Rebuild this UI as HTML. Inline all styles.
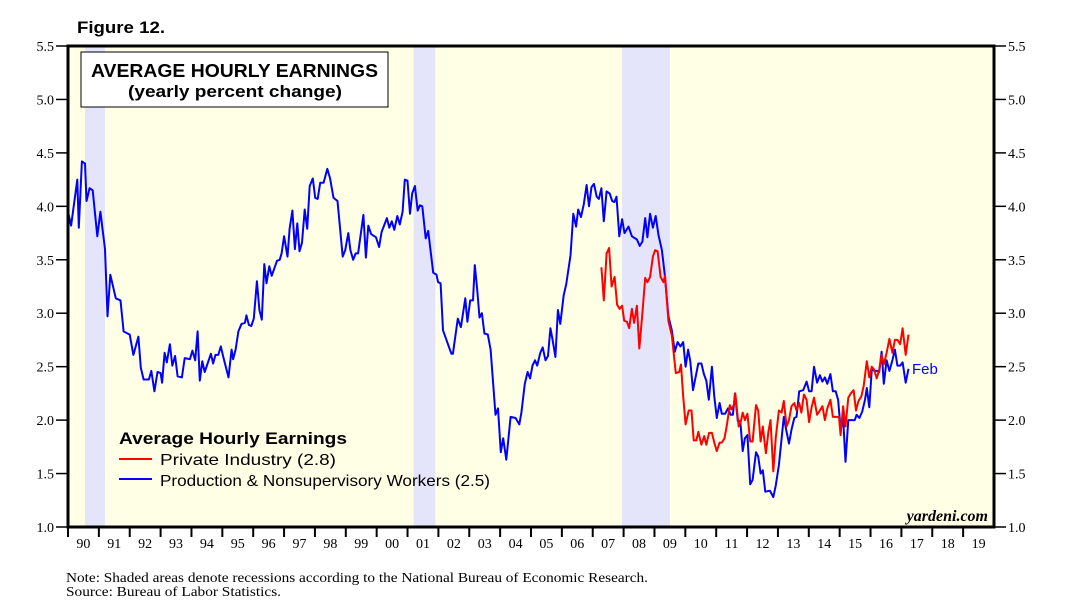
<!DOCTYPE html>
<html><head><meta charset="utf-8">
<style>
html,body{margin:0;padding:0;background:#fff;}
svg{display:block;}
</style></head>
<body>
<svg id="chart" width="1067" height="616" xmlns="http://www.w3.org/2000/svg">
<text x="77" y="33" font-family="Liberation Sans, sans-serif" font-weight="bold" font-size="17" textLength="88" lengthAdjust="spacingAndGlyphs">Figure 12.</text>
<rect x="68" y="46" width="926" height="481" fill="#ffffe6"/>
<g id="rec"></g>
<g id="ticks"></g>
<g id="lines"></g>
<rect x="68" y="46" width="926" height="481" fill="none" stroke="#000" stroke-width="3"/>
<rect x="81" y="52" width="307" height="55" fill="#fff" stroke="#000" stroke-width="1"/>
<text x="91" y="77" font-family="Liberation Sans, sans-serif" font-weight="bold" font-size="18" textLength="287" lengthAdjust="spacingAndGlyphs">AVERAGE HOURLY EARNINGS</text>
<text x="128" y="97" font-family="Liberation Sans, sans-serif" font-weight="bold" font-size="17" textLength="214" lengthAdjust="spacingAndGlyphs">(yearly percent change)</text>
<g>
<text x="119" y="444" font-family="Liberation Sans, sans-serif" font-weight="bold" font-size="17" textLength="228" lengthAdjust="spacingAndGlyphs">Average Hourly Earnings</text>
<line x1="119" y1="459" x2="152" y2="459" stroke="#f00" stroke-width="2"/>
<text x="160" y="465" font-family="Liberation Sans, sans-serif" font-size="16" textLength="176" lengthAdjust="spacingAndGlyphs">Private Industry (2.8)</text>
<line x1="119" y1="479" x2="152" y2="479" stroke="#00f" stroke-width="2"/>
<text x="160" y="486" font-family="Liberation Sans, sans-serif" font-size="16" textLength="330" lengthAdjust="spacingAndGlyphs">Production &amp; Nonsupervisory Workers (2.5)</text>
</g>
<text x="912" y="374" fill="#00f" font-family="Liberation Sans, sans-serif" font-size="15">Feb</text>
<text x="988" y="521" text-anchor="end" font-family="Liberation Serif, serif" font-style="italic" font-weight="bold" font-size="16">yardeni.com</text>
<text x="66" y="582" font-family="Liberation Serif, serif" font-size="14" textLength="582" lengthAdjust="spacingAndGlyphs">Note: Shaded areas denote recessions according to the National Bureau of Economic Research.</text>
<text x="66" y="596" font-family="Liberation Serif, serif" font-size="14" textLength="215" lengthAdjust="spacingAndGlyphs">Source: Bureau of Labor Statistics.</text>
</svg>
<script>
const recStart=[1990.55,2001.2,2007.95];
const recEnd=[1991.2,2001.9,2009.5];
const yTicks=[1.0,1.5,2.0,2.5,3.0,3.5,4.0,4.5,5.0,5.5];
const yTickLabels=["1.0","1.5","2.0","2.5","3.0","3.5","4.0","4.5","5.0","5.5"];
const xYears=["90","91","92","93","94","95","96","97","98","99","00","01","02","03","04","05","06","07","08","09","10","11","12","13","14","15","16","17","18","19"];
const blueT=[1990.0,1990.1,1990.3,1990.35,1990.45,1990.55,1990.6,1990.7,1990.8,1990.95,1991.05,1991.2,1991.28,1991.37,1991.55,1991.7,1991.8,1992.0,1992.12,1992.28,1992.36,1992.45,1992.62,1992.7,1992.8,1992.9,1993.0,1993.05,1993.13,1993.2,1993.3,1993.38,1993.47,1993.55,1993.69,1993.78,1993.95,1994.03,1994.12,1994.2,1994.27,1994.35,1994.43,1994.63,1994.7,1994.78,1994.87,1994.95,1995.03,1995.2,1995.3,1995.35,1995.43,1995.52,1995.62,1995.73,1995.78,1995.86,1995.94,1996.02,1996.12,1996.2,1996.28,1996.36,1996.43,1996.52,1996.6,1996.77,1996.86,1996.92,1997.0,1997.11,1997.18,1997.27,1997.35,1997.43,1997.5,1997.58,1997.67,1997.75,1997.83,1997.93,1998.01,1998.09,1998.17,1998.28,1998.4,1998.49,1998.6,1998.73,1998.9,1998.98,1999.08,1999.15,1999.24,1999.32,1999.4,1999.57,1999.65,1999.73,1999.82,1999.98,2000.08,2000.16,2000.33,2000.41,2000.49,2000.57,2000.67,2000.75,2000.84,2000.91,2001.0,2001.08,2001.15,2001.24,2001.33,2001.4,2001.48,2001.59,2001.67,2001.83,2001.94,2001.99,2002.07,2002.15,2002.42,2002.47,2002.63,2002.73,2002.87,2002.94,2003.03,2003.12,2003.18,2003.26,2003.33,2003.41,2003.49,2003.6,2003.69,2003.85,2003.93,2004.02,2004.1,2004.2,2004.34,2004.5,2004.62,2004.69,2004.8,2004.89,2004.97,2005.05,2005.13,2005.2,2005.3,2005.38,2005.47,2005.55,2005.63,2005.7,2005.79,2005.87,2005.95,2006.06,2006.14,2006.28,2006.37,2006.46,2006.53,2006.62,2006.71,2006.8,2006.88,2006.96,2007.04,2007.13,2007.2,2007.28,2007.36,2007.45,2007.55,2007.63,2007.7,2007.77,2007.86,2007.95,2008.03,2008.16,2008.27,2008.43,2008.52,2008.61,2008.7,2008.77,2008.86,2008.95,2009.04,2009.13,2009.24,2009.34,2009.45,2009.56,2009.66,2009.75,2009.84,2009.93,2010.01,2010.09,2010.16,2010.25,2010.42,2010.52,2010.6,2010.68,2010.76,2010.86,2010.94,2011.02,2011.11,2011.18,2011.29,2011.38,2011.47,2011.54,2011.61,2011.7,2011.78,2011.86,2011.93,2012.01,2012.1,2012.18,2012.29,2012.36,2012.44,2012.51,2012.59,2012.74,2012.85,2012.93,2013.03,2013.19,2013.28,2013.36,2013.44,2013.53,2013.6,2013.69,2013.82,2013.93,2014.01,2014.09,2014.17,2014.27,2014.36,2014.44,2014.52,2014.6,2014.7,2014.78,2014.87,2014.95,2015.03,2015.11,2015.19,2015.28,2015.39,2015.49,2015.55,2015.64,2015.73,2015.82,2015.88,2015.96,2016.04,2016.12,2016.22,2016.28,2016.36,2016.43,2016.52,2016.61,2016.71,2016.79,2016.87,2016.96,2017.04,2017.14,2017.23];
const blueV=[3.95,3.82,4.25,3.8,4.42,4.4,4.05,4.17,4.15,3.72,3.95,3.6,2.97,3.36,3.14,3.12,2.83,2.8,2.61,2.78,2.49,2.38,2.38,2.46,2.27,2.45,2.44,2.35,2.63,2.54,2.71,2.51,2.6,2.41,2.4,2.58,2.57,2.65,2.56,2.83,2.37,2.55,2.45,2.62,2.53,2.61,2.61,2.69,2.59,2.4,2.66,2.57,2.66,2.83,2.9,2.91,2.98,2.89,2.88,2.95,3.3,3.03,2.94,3.46,3.28,3.44,3.35,3.49,3.5,3.56,3.72,3.53,3.79,3.96,3.6,3.84,3.58,3.66,3.97,3.79,4.19,4.26,4.08,4.07,4.22,4.22,4.35,4.26,4.08,4.05,3.53,3.59,3.75,3.59,3.5,3.56,3.56,3.92,3.52,3.82,3.74,3.71,3.62,3.76,3.89,3.8,3.86,3.78,3.91,3.83,3.95,4.25,4.24,3.93,4.12,4.19,3.96,4.01,4.0,3.7,3.77,3.38,3.36,3.29,3.28,2.84,2.62,2.62,2.95,2.87,3.14,2.92,3.12,3.12,3.45,3.21,2.96,3.0,2.81,2.8,2.66,2.05,2.11,1.7,1.83,1.63,2.03,2.02,1.96,2.07,2.34,2.45,2.39,2.51,2.56,2.51,2.63,2.68,2.56,2.6,2.86,2.75,2.59,3.03,2.9,3.17,3.27,3.54,3.93,3.81,3.97,3.9,4.02,4.2,4.0,4.18,4.21,4.09,4.07,4.17,3.86,4.14,4.12,4.05,4.04,4.09,3.72,3.88,3.75,3.81,3.72,3.69,3.63,3.67,3.89,3.71,3.93,3.8,3.91,3.73,3.59,3.34,2.97,2.84,2.64,2.73,2.69,2.73,2.5,2.66,2.55,2.28,2.53,2.53,2.43,2.37,2.19,2.5,2.22,2.02,2.16,2.06,2.06,2.11,2.05,2.05,2.25,1.99,1.99,1.71,1.83,1.86,1.4,1.44,1.7,1.66,1.5,1.53,1.33,1.34,1.28,1.39,1.58,2.03,1.89,1.78,1.91,2.02,2.03,2.27,2.28,2.36,2.27,2.27,2.5,2.35,2.42,2.36,2.4,2.34,2.43,2.27,2.27,2.19,1.92,2.02,1.61,2.0,2.0,2.0,2.05,2.02,2.08,2.19,2.3,2.12,2.48,2.46,2.46,2.45,2.64,2.34,2.56,2.46,2.56,2.66,2.51,2.51,2.54,2.35,2.48];
const redT=[2007.28,2007.36,2007.45,2007.53,2007.61,2007.71,2007.79,2007.87,2007.95,2008.02,2008.11,2008.18,2008.27,2008.34,2008.43,2008.51,2008.61,2008.7,2008.77,2008.86,2008.95,2009.02,2009.1,2009.2,2009.29,2009.34,2009.45,2009.56,2009.69,2009.8,2009.86,2009.93,2010.01,2010.11,2010.2,2010.27,2010.36,2010.42,2010.52,2010.61,2010.68,2010.77,2010.86,2010.94,2011.02,2011.11,2011.18,2011.27,2011.35,2011.44,2011.49,2011.57,2011.62,2011.73,2011.8,2011.86,2011.93,2012.01,2012.1,2012.18,2012.29,2012.36,2012.44,2012.51,2012.61,2012.69,2012.76,2012.85,2012.93,2013.03,2013.12,2013.19,2013.28,2013.36,2013.44,2013.53,2013.6,2013.69,2013.76,2013.84,2013.93,2014.01,2014.09,2014.17,2014.27,2014.36,2014.44,2014.52,2014.6,2014.7,2014.78,2014.89,2014.98,2015.03,2015.11,2015.19,2015.28,2015.36,2015.45,2015.53,2015.61,2015.7,2015.78,2015.88,2015.96,2016.04,2016.12,2016.2,2016.28,2016.36,2016.43,2016.52,2016.61,2016.71,2016.79,2016.87,2016.96,2017.04,2017.14,2017.23];
const redV=[3.43,3.12,3.56,3.61,3.25,3.34,3.08,3.04,3.07,2.93,2.92,2.86,3.04,2.91,3.07,2.67,3.0,3.33,3.29,3.34,3.53,3.59,3.58,3.34,3.29,3.35,2.93,2.79,2.44,2.45,2.52,2.22,1.96,2.09,2.09,1.81,1.81,1.89,1.77,1.85,1.77,1.88,1.88,1.79,1.71,1.79,1.79,1.83,1.96,2.14,2.1,2.14,2.25,1.94,1.99,2.07,2.0,2.06,1.8,1.8,2.14,2.09,1.8,1.94,1.69,1.89,2.0,1.52,1.84,2.09,2.07,2.18,1.94,2.0,2.13,2.16,2.09,2.16,2.07,2.24,2.19,1.98,2.12,2.21,2.05,2.09,2.13,2.0,2.11,2.19,2.03,2.03,2.03,1.86,2.13,1.94,2.21,2.25,2.28,2.09,2.18,2.22,2.32,2.55,2.4,2.5,2.47,2.39,2.47,2.61,2.52,2.63,2.76,2.63,2.75,2.75,2.71,2.86,2.61,2.8];

const X0=68,X1=994,Y0=527,Y1=46;
const xs=t=>X0+(t-1990)*(X1-X0)/30;
const ys=v=>Y0-(v-1.0)*(Y0-Y1)/4.5;
const NS="http://www.w3.org/2000/svg";
function mk(tag,parent,attrs){const e=document.createElementNS(NS,tag);for(const k in attrs)e.setAttribute(k,attrs[k]);parent.appendChild(e);return e;}
const rec=document.getElementById('rec');
recStart.forEach((s,i)=>{
  const r=mk('rect',rec,{x:xs(s),y:Y1,width:xs(recEnd[i])-xs(s),height:Y0-Y1,fill:'#e4e4fa'});
  
  
});
const tk=document.getElementById('ticks');
yTicks.forEach((v,i)=>{
  const y=ys(v);
  const l1=mk('line',tk,{x1:56,y1:y,x2:68,y2:y,stroke:'#000','stroke-width':1.5});
  
  
  const l2=mk('line',tk,{x1:994,y1:y,x2:1006,y2:y,stroke:'#000','stroke-width':1.5});
  
  
  const a=mk('text',tk,{x:54,y:y+5,'text-anchor':'end','font-family':'Liberation Serif, serif','font-size':14});
  a.textContent=yTickLabels[i];
  
  
  const b=mk('text',tk,{x:1008,y:y+5,'font-family':'Liberation Serif, serif','font-size':14});
  b.textContent=yTickLabels[i];
  
  
});
xYears.forEach((lab,i)=>{
  const x=xs(1990+i);
  const l=mk('line',tk,{x1:x,y1:527,x2:x,y2:537,stroke:'#000','stroke-width':2});
  
  
  const t=mk('text',tk,{x:xs(1990.5+i),y:548,'text-anchor':'middle','font-family':'Liberation Serif, serif','font-size':14});
  t.textContent=lab;
  
  
});
const ln=document.getElementById('lines');
function path(T,V,color,name){
  let d='';T.forEach((t,i)=>{d+=(i?'L':'M')+xs(t).toFixed(1)+','+ys(V[i]).toFixed(1);});
  const p=mk('path',ln,{d:d,fill:'none',stroke:color,'stroke-width':2,'stroke-linejoin':'round'});
  
  
}
path(blueT,blueV,'#0000ff','production-workers-line');
path(redT,redV,'#ff0000','private-industry-line');
</script>
</body></html>
